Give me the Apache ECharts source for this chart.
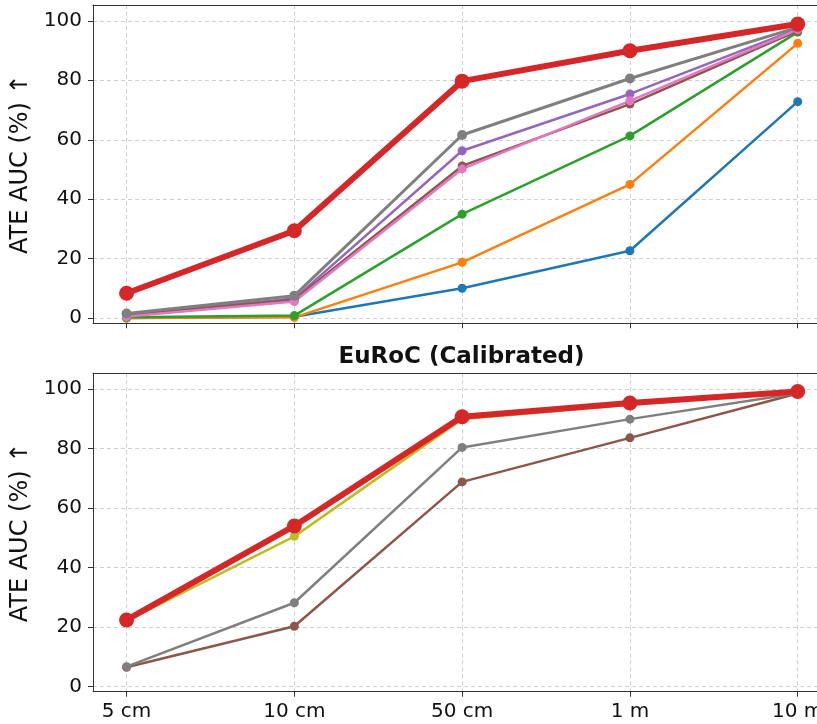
<!DOCTYPE html>
<html>
<head>
<meta charset="utf-8">
<script src="https://cdn.jsdelivr.net/npm/echarts@6/dist/echarts.min.js"></script>
<style>
html,body{margin:0;padding:0;background:#fff;}
#chart{width:817px;height:724px;}
</style>
</head>
<body>
<div id="chart"></div>
<script>
// ---- data ----
const categories = ["5 cm", "10 cm", "50 cm", "1 m", "10 m"];
const yTicks = [0, 20, 40, 60, 80, 100];
const titleTop = "EuRoC (Uncalibrated)";
const titleBottom = "EuRoC (Calibrated)";
const yLabel = "ATE AUC (%) \u2191";

// top panel (uncalibrated)
const topBlue   = [0.1, 0.5, 10.1, 22.7, 72.8];
const topOrange = [0.1, 0.3, 18.8, 45.0, 92.4];
const topGreen  = [0.3, 0.9, 35.0, 61.3, 96.2];
const topPurple = [1.2, 6.6, 56.3, 75.4, 97.3];
const topBrown  = [1.0, 6.2, 51.2, 72.0, 96.6];
const topPink   = [0.6, 5.6, 50.2, 73.1, 97.0];
const topGray   = [1.6, 7.6, 61.6, 80.6, 97.8];
const topRed    = [8.4, 29.4, 79.7, 89.9, 98.9];

// bottom panel (calibrated)
const botBrown = [6.5, 20.3, 68.8, 83.6, 98.5];
const botGray  = [6.7, 28.2, 80.4, 89.9, 98.6];
const botOlive = [22.1, 50.5, 89.9, 94.7, 99.0];
const botRed   = [22.4, 54.0, 90.7, 95.3, 99.2];

// ---- build ----
const xIdx = categories.map((c, i) => i);
function pts(arr) { return arr.map((v, i) => [xIdx[i], v]); }

const FONT = "DejaVu Sans";
const AX = '#333333';
const GRIDC = '#cfcfcf';
const XMIN = -0.2, XMAX = 4.115;

function mkX(gi, showLabels) {
  return {
    type: 'value', gridIndex: gi, min: XMIN, max: XMAX, position: 'bottom',
    axisLine: { show: true, onZero: false, lineStyle: { color: AX, width: 1 } },
    axisTick: { show: true, length: 5, lineStyle: { color: AX }, customValues: xIdx },
    axisLabel: {
      show: showLabels, customValues: xIdx, margin: 10,
      fontFamily: FONT, fontSize: 20, color: '#111',
      formatter: v => categories[Math.round(v)]
    },
    splitLine: { show: true, lineStyle: { color: GRIDC, type: [4, 3], width: 1 } }
  };
}
function mkXTop(gi) {
  return {
    type: 'value', gridIndex: gi, min: XMIN, max: XMAX, position: 'top',
    axisLine: { show: true, onZero: false, lineStyle: { color: AX, width: 1 } },
    axisTick: { show: false }, axisLabel: { show: false }, splitLine: { show: false }
  };
}
function mkY(gi) {
  return {
    type: 'value', gridIndex: gi, min: -1.7, max: 105.3,
    name: yLabel, nameLocation: 'middle', nameGap: 54, nameRotate: 90,
    nameTextStyle: { fontFamily: FONT, fontSize: 24, color: '#111' },
    axisLine: { show: true, onZero: false, lineStyle: { color: AX, width: 1 } },
    axisTick: { show: true, length: 5, lineStyle: { color: AX }, customValues: yTicks },
    axisLabel: { customValues: yTicks, margin: 11, fontFamily: FONT, fontSize: 20, color: '#111' },
    splitLine: { show: true, lineStyle: { color: GRIDC, type: [4, 3], width: 1 } }
  };
}
function line(name, data, color, gi, big, w, s) {
  return {
    name, type: 'line', xAxisIndex: gi, yAxisIndex: gi,
    data: pts(data), symbol: 'circle',
    symbolSize: big ? 15 : (s || 9),
    lineStyle: { color, width: big ? 6 : (w || 2.5) },
    itemStyle: { color },
    z: big ? 10 : 2, animation: false, silent: true
  };
}

const option = {
  animation: false,
  backgroundColor: '#ffffff',
  grid: [
    { left: 93, top: 5, right: 0, height: 318.3, outerBoundsMode: 'none', containLabel: false },
    { left: 93, top: 373.3, right: 0, height: 318.4, outerBoundsMode: 'none', containLabel: false }
  ],
  xAxis: [mkX(0, false), mkX(1, true), mkXTop(0), mkXTop(1)],
  yAxis: [mkY(0), mkY(1)],
  graphic: [
    { type: 'text', x: 461.5, y: -9, style: { text: titleTop, font: 'bold 23px "DejaVu Sans"', fill: '#111', align: 'center', verticalAlign: 'middle' } },
    { type: 'text', x: 461.5, y: 357, style: { text: titleBottom, font: 'bold 23px "DejaVu Sans"', fill: '#111', align: 'center', verticalAlign: 'middle' } }
  ],
  series: [
    line('blue', topBlue, '#1f77b4', 0),
    line('orange', topOrange, '#ff7f0e', 0),
    line('green', topGreen, '#2ca02c', 0),
    line('purple', topPurple, '#9467bd', 0),
    line('brown', topBrown, '#8c564b', 0),
    line('pink', topPink, '#e377c2', 0),
    line('gray', topGray, '#7f7f7f', 0, false, 3, 10),
    line('red', topRed, '#d62728', 0, true),
    line('brown2', botBrown, '#8c564b', 1),
    line('gray2', botGray, '#7f7f7f', 1),
    line('olive2', botOlive, '#bcbd22', 1),
    line('red2', botRed, '#d62728', 1, true)
  ]
};
const chart = echarts.init(document.getElementById('chart'), null, { renderer: 'canvas' });
chart.setOption(option);
</script>
</body>
</html>
